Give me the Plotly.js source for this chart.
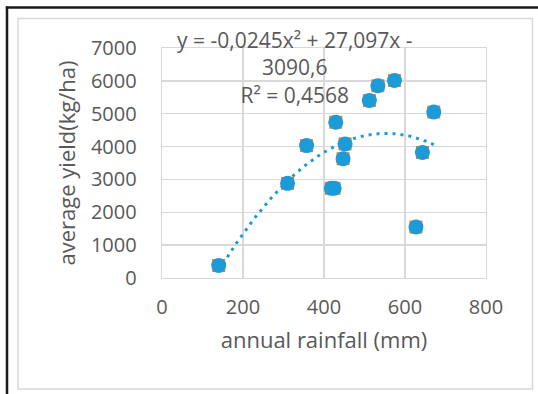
<!DOCTYPE html>
<html>
<head>
<meta charset="utf-8">
<script src="https://cdn.plot.ly/plotly-3.0.1.min.js"></script>
<style>
html,body{margin:0;padding:0;background:#fff;}
#chart{width:538px;height:394px;}
</style>
</head>
<body>
<div id="chart"></div>
<script>
// Data
const rainfall = [140, 310, 357, 418, 425, 429, 447, 452, 512, 533, 574, 627, 643, 671];
const yieldKgHa = [380, 2880, 4030, 2730, 2730, 4740, 3630, 4080, 5400, 5850, 6010, 1550, 3820, 5050];
// Trendline coefficients shown on the chart
const trendA = -0.0245, trendB = 27.097, trendC = -3090.6;
const trendLabel = 'y = -0,0245x² + 27,097x -<br>3090,6<br>R² = 0,4568';
const xTicks = [0, 200, 400, 600, 800];
const yTicks = [0, 1000, 2000, 3000, 4000, 5000, 6000, 7000];

const xMin = Math.min(...rainfall), xMax = Math.max(...rainfall);
const tx = [], ty = [];
for (let i = 0; i <= 120; i++) {
  const x = xMin + (xMax - xMin) * i / 120;
  tx.push(x);
  ty.push(trendA * x * x + trendB * x + trendC);
}

const gray = '#595959';
const fam = '"Open Sans", sans-serif';
const font = {family: fam, size: 20, color: gray};
const titleFont = {family: fam, size: 22, color: gray};
const annFont = {family: fam, size: 21, color: gray};

const traces = [
  {x: rainfall, y: yieldKgHa, type: 'scatter', mode: 'markers',
   marker: {symbol: 'square', size: 13, color: '#ED7D31'}, hoverinfo: 'skip'},
  {x: rainfall, y: yieldKgHa, type: 'scatter', mode: 'markers',
   marker: {symbol: 'circle', size: 15, color: '#1B9BD7'}, hoverinfo: 'skip'},
  {x: tx, y: ty, type: 'scatter', mode: 'lines',
   line: {color: '#1B9BD7', width: 3, dash: '3px,5px'}, hoverinfo: 'skip'}
];

const PL = 162, PR = 486, PT = 48, PB = 278;
const px = v => (v - PL) / (PR - PL);
const py = v => (PB - v) / (PB - PT);

const layout = {
  width: 538, height: 394,
  margin: {l: PL, r: 538 - PR, t: PT, b: 394 - PB},
  paper_bgcolor: '#fff', plot_bgcolor: '#fff',
  showlegend: false,
  font: font,
  xaxis: {
    range: [0, 800], tickvals: xTicks, ticktext: xTicks.map(String),
    showgrid: true, gridcolor: '#D9D9D9', gridwidth: 1.3,
    zeroline: false, showline: true, mirror: true, linecolor: '#D9D9D9', linewidth: 1.3,
    ticks: '', ticklabelstandoff: 11, tickfont: font,
    title: {text: 'annual rainfall (mm)', font: titleFont, standoff: 13}
  },
  yaxis: {
    range: [0, 7000], tickvals: yTicks, ticktext: yTicks.map(String),
    showgrid: true, gridcolor: '#D9D9D9', gridwidth: 1.3,
    zeroline: false, showline: true, mirror: true, linecolor: '#D9D9D9', linewidth: 1.3,
    ticks: '', ticklabelstandoff: 20, tickfont: font,
    title: {text: 'average yield(kg/ha)', font: titleFont, standoff: 9}
  },
  annotations: [{
    xref: 'paper', yref: 'paper', x: px(295), y: py(67),
    xanchor: 'center', yanchor: 'middle', align: 'center',
    text: trendLabel, showarrow: false, font: annFont
  }],
  shapes: [
    {type: 'rect', xref: 'paper', yref: 'paper', x0: px(18), x1: px(532.5), y0: py(389), y1: py(18.5),
     line: {color: '#D9D9D9', width: 1.5}, layer: 'below'},
    {type: 'line', xref: 'paper', yref: 'paper', x0: px(7), x1: px(7), y0: py(400), y1: py(6.5),
     line: {color: '#1a1a1a', width: 2.5}},
    {type: 'line', xref: 'paper', yref: 'paper', x0: px(5.8), x1: px(545), y0: py(7.5), y1: py(7.5),
     line: {color: '#1a1a1a', width: 2.5}}
  ]
};

Plotly.newPlot('chart', traces, layout, {staticPlot: true, displayModeBar: false});
</script>
</body>
</html>
